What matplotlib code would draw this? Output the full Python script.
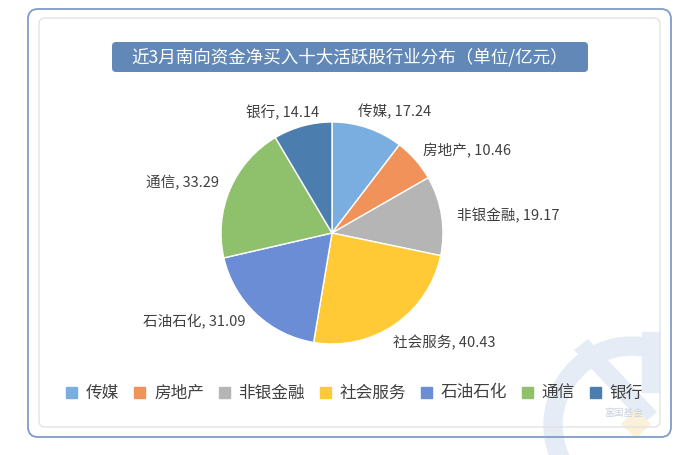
import matplotlib.pyplot as plt
from matplotlib.patches import FancyBboxPatch, Rectangle, Wedge, Polygon

plt.rcParams['font.family'] = ['Noto Sans CJK SC', 'DejaVu Sans']

# data
sectors = ['传媒', '房地产', '非银金融', '社会服务', '石油石化', '通信', '银行']
values = [17.24, 10.46, 19.17, 40.43, 31.09, 33.29, 14.14]
colors = ['#7BAEE0', '#F0925A', '#B5B5B5', '#FFCA35', '#6A8DD5', '#8FC16D', '#4B7EAE']
title = '近3月南向资金净买入十大活跃股行业分布（单位/亿元）'

# label anchors (left edge, pixel coords from top)
label_pos = [(358, 112), (423, 151), (457, 216), (393, 343), (143, 321), (146, 183), (246, 112)]

H = 455
fig = plt.figure(figsize=(7, 4.55), dpi=100)
ax = fig.add_axes([0, 0, 1, 1])

# faint watermark logo
wm = '#E6ECF5'
ax.add_patch(Wedge((632, H - 425), 88, 78, 272, width=18, color=wm, zorder=0))
ax.add_patch(Rectangle((642, H - 392), 17, 60, color=wm, zorder=0))
ax.add_patch(Polygon([(575, H - 350), (588, H - 340), (656, H - 412), (643, H - 423)],
                     closed=True, color=wm, zorder=0))
ax.add_patch(Polygon([(636, H - 410), (650, H - 424), (636, H - 438), (622, H - 424)],
                     closed=True, color='#FBF1DA', zorder=0))
ax.text(624, H - 413, '富国基金', fontsize=7, color='#CBD3DE', ha='center', va='center', zorder=1)

# frames
ax.add_patch(FancyBboxPatch((28, H - 437), 643, 428, boxstyle='round,pad=0,rounding_size=10',
                            fc='none', ec='#7F9CC8', lw=1.3, zorder=2))
ax.add_patch(FancyBboxPatch((39, H - 427), 621, 409, boxstyle='round,pad=0,rounding_size=6',
                            fc='none', ec='#E0E0E0', lw=0.9, zorder=2))

# title bar
ax.add_patch(FancyBboxPatch((112, H - 72), 476, 30, boxstyle='round,pad=0,rounding_size=4',
                            fc='#6288B8', ec='none', zorder=3))
ax.text(350, H - 57, title, color='white', fontsize=12.6, ha='center', va='center', zorder=4)

# pie
wedges, _ = ax.pie(values, colors=colors, startangle=90, counterclock=False,
                   center=(332, H - 233), radius=111,
                   wedgeprops=dict(edgecolor='white', linewidth=1.0), frame=True)
for (lx, ly), s, v in zip(label_pos, sectors, values):
    ax.text(lx, H - ly, f'{s}, {v:.2f}', fontsize=10.5, color='#404040',
            ha='left', va='center')

ax.set_xlim(0, 700)
ax.set_ylim(0, H)
ax.set_aspect('auto')
ax.axis('off')

# legend
x = 66
for s, c in zip(sectors, colors):
    ax.add_patch(Rectangle((x, H - 398), 11, 11, color=c, zorder=3))
    ax.text(x + 20, H - 393, s, fontsize=12, color='#404040', va='center', ha='left')
    x += 35 + 16.5 * len(s)

fig.savefig('out.png', dpi=100)
